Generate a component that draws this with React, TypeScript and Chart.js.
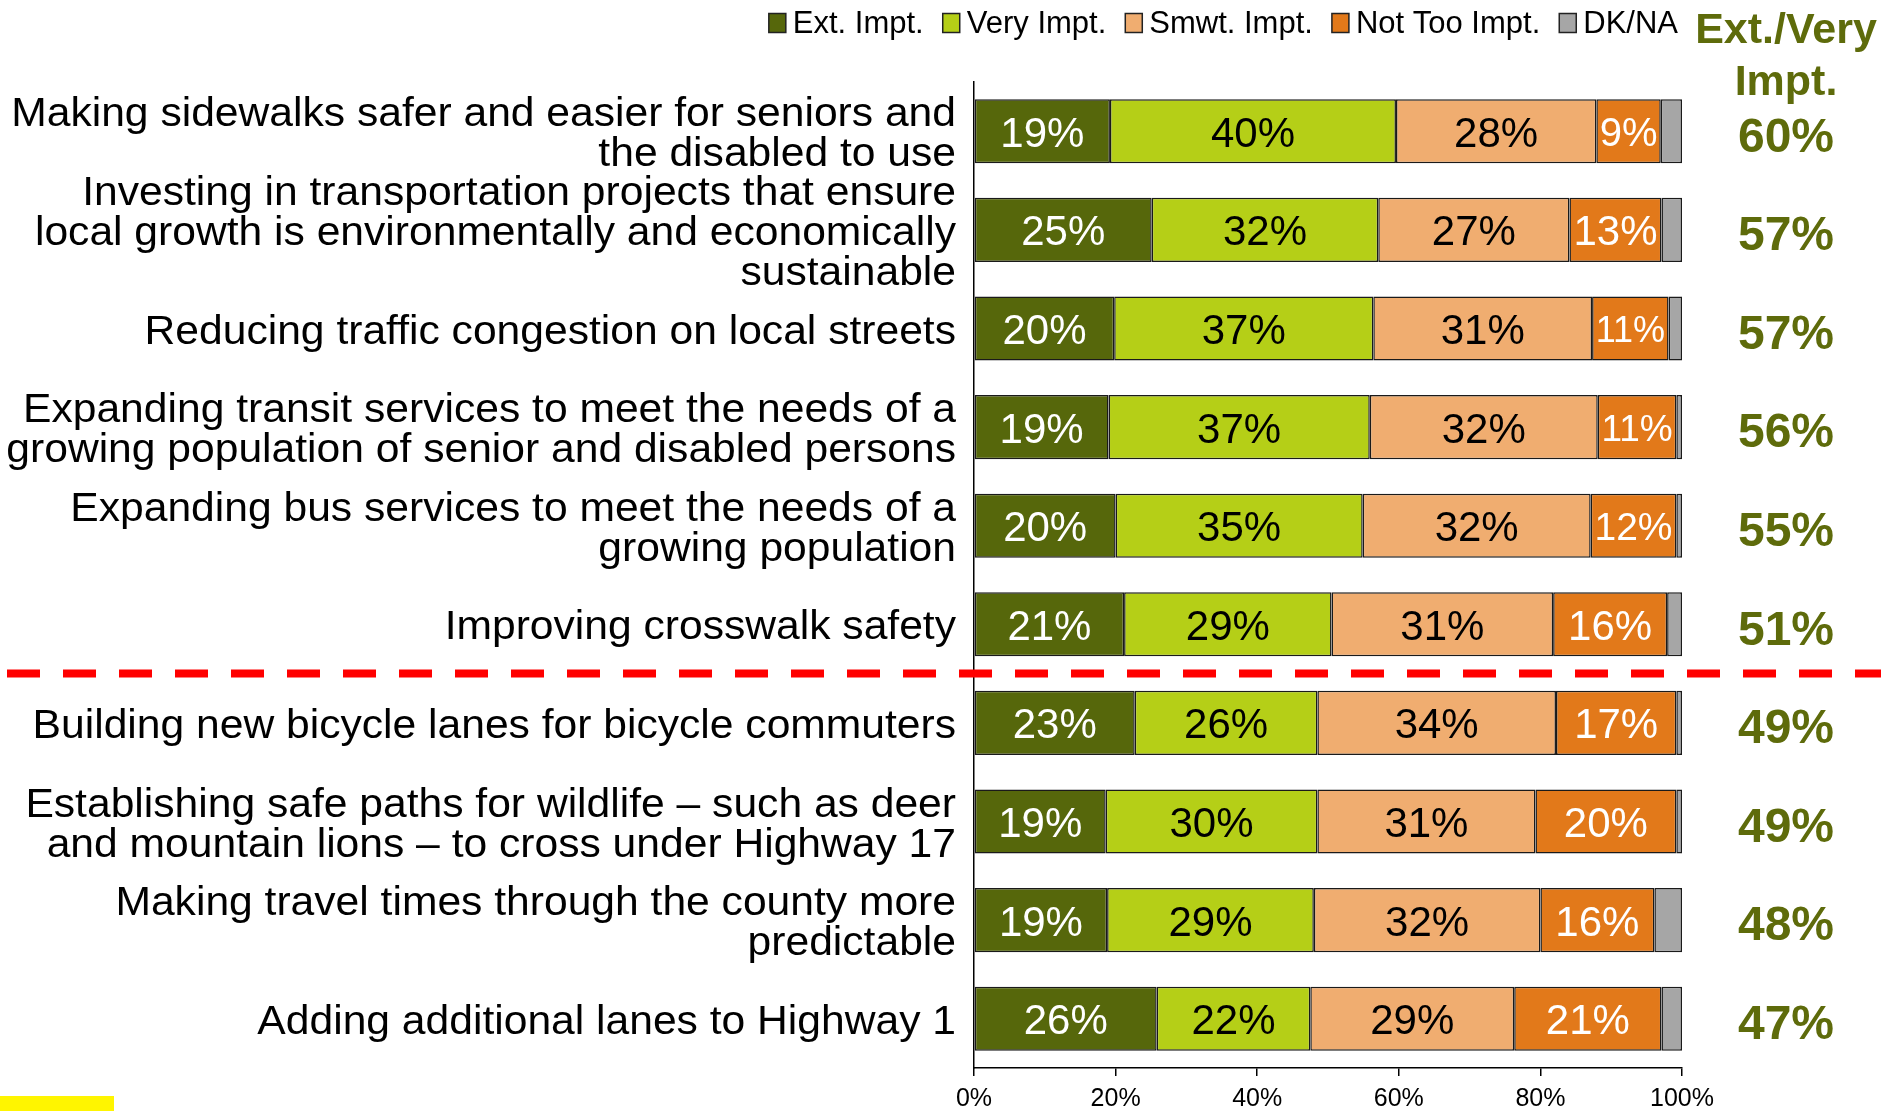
import React, { useEffect, useRef } from "react";
import { Chart, registerables } from "chart.js";

Chart.register(...registerables);

const FONT = '"Liberation Sans", Arial, Helvetica, sans-serif';

const categories: string[][] = [
  ["Making sidewalks safer and easier for seniors and", "the disabled to use"],
  ["Investing in transportation projects that ensure", "local growth is environmentally and economically", "sustainable"],
  ["Reducing traffic congestion on local streets"],
  ["Expanding transit services to meet the needs of a", "growing population of senior and disabled persons"],
  ["Expanding bus services to meet the needs of a", "growing population"],
  ["Improving crosswalk safety"],
  ["Building new bicycle lanes for bicycle commuters"],
  ["Establishing safe paths for wildlife \u2013 such as deer", "and mountain lions \u2013 to cross under Highway 17"],
  ["Making travel times through the county more", "predictable"],
  ["Adding additional lanes to Highway 1"],
];

const seriesNames = ["Ext. Impt.", "Very Impt.", "Smwt. Impt.", "Not Too Impt.", "DK/NA"];
const seriesColors = ["#56670B", "#B5CF17", "#F0AD70", "#E2791A", "#A6A6A6"];
const labelColors = ["#FFFFFF", "#000000", "#000000", "#FFFFFF"];

const extImpt = [19.2, 25.1, 19.8, 19.0, 20.0, 21.2, 22.7, 18.6, 18.8, 25.8];
const veryImpt = [40.4, 32.0, 36.6, 36.9, 34.9, 29.3, 25.8, 29.9, 29.2, 21.7];
const smwtImpt = [28.3, 27.0, 30.9, 32.2, 32.2, 31.3, 33.7, 30.8, 32.0, 28.8];
const notTooImpt = [9.1, 13.0, 10.8, 11.1, 12.1, 16.1, 17.0, 19.9, 16.1, 20.8];
const dkNa = [3.0, 2.9, 1.9, 0.8, 0.8, 2.1, 0.8, 0.8, 3.9, 2.9];

const extVeryTotals = [60, 57, 57, 56, 55, 51, 49, 49, 48, 47];
const totalsHeader = ["Ext./Very", "Impt."];
const xTicks = [0, 20, 40, 60, 80, 100];

const OLIVE = "#5E6B0B";

const overlayPlugin = {
  id: "overlay",
  afterDatasetsDraw(chart: any) {
    const ctx: CanvasRenderingContext2D = chart.ctx;
    ctx.save();
    for (let d = 0; d < 4; d++) {
      const meta = chart.getDatasetMeta(d);
      const values = chart.data.datasets[d].data as number[];
      meta.data.forEach((bar: any, i: number) => {
        const p = bar.getProps(["x", "y", "base"], true);
        const w = Math.abs(p.x - p.base);
        const cx = (p.x + p.base) / 2;
        const txt = Math.round(values[i]) + "%";
        let size = 42;
        ctx.font = `${size}px ${FONT}`;
        const tw = ctx.measureText(txt).width;
        if (tw > w - 6) size = Math.floor((size * (w - 6)) / tw);
        ctx.font = `${size}px ${FONT}`;
        ctx.fillStyle = labelColors[d];
        ctx.textAlign = "center";
        ctx.textBaseline = "middle";
        ctx.fillText(txt, cx, p.y + 4);
      });
    }
    ctx.restore();
  },
  afterDraw(chart: any) {
    const ctx: CanvasRenderingContext2D = chart.ctx;
    const area = chart.chartArea;
    const yScale = chart.scales.y;
    ctx.save();

    // category labels
    const catSize = 40;
    const catStretch = 1.065;
    const lineH = 40;
    ctx.font = `${catSize}px ${FONT}`;
    ctx.fillStyle = "#000";
    ctx.textAlign = "right";
    ctx.textBaseline = "middle";
    categories.forEach((lines, i) => {
      const cy = yScale.getPixelForValue(i) + 4;
      lines.forEach((line, j) => {
        const ly = cy + (j - (lines.length - 1) / 2) * lineH;
        ctx.save();
        ctx.translate(area.left - 18, ly);
        ctx.scale(catStretch, 1);
        ctx.fillText(line, 0, 0);
        ctx.restore();
      });
    });

    // totals column
    const colX = area.right + 104;
    ctx.fillStyle = OLIVE;
    ctx.textAlign = "center";
    ctx.font = `bold 43px ${FONT}`;
    ctx.textBaseline = "alphabetic";
    ctx.fillText(totalsHeader[0], colX, 43);
    ctx.fillText(totalsHeader[1], colX, 95);
    ctx.font = `bold 48px ${FONT}`;
    ctx.textBaseline = "middle";
    extVeryTotals.forEach((v, i) => {
      ctx.fillText(v + "%", colX, yScale.getPixelForValue(i) + 7);
    });

    // legend
    const legSize = 31;
    ctx.font = `${legSize}px ${FONT}`;
    ctx.textAlign = "left";
    ctx.textBaseline = "middle";
    const boxW = 17, boxH = 19, boxGap = 7, itemGap = 19;
    const widths = seriesNames.map((n) => boxW + boxGap + ctx.measureText(n).width);
    const total = widths.reduce((a, b) => a + b, 0) + itemGap * (seriesNames.length - 1);
    let lx = area.right - 4 - total;
    const ly = 23;
    seriesNames.forEach((n, k) => {
      ctx.fillStyle = seriesColors[k];
      ctx.fillRect(lx, ly - boxH / 2, boxW, boxH);
      ctx.strokeStyle = "#222";
      ctx.lineWidth = 1.5;
      ctx.strokeRect(lx, ly - boxH / 2, boxW, boxH);
      ctx.fillStyle = "#000";
      ctx.fillText(n, lx + boxW + boxGap, ly + 1);
      lx += widths[k] + itemGap;
    });

    // red dashed separator between row 6 and row 7
    const sepY = (yScale.getPixelForValue(5) + yScale.getPixelForValue(6)) / 2;
    ctx.strokeStyle = "#FF0000";
    ctx.lineWidth = 8;
    ctx.setLineDash([33, 23]);
    ctx.beginPath();
    ctx.moveTo(7, sepY);
    ctx.lineTo(chart.width, sepY);
    ctx.stroke();
    ctx.setLineDash([]);

    // yellow marker bottom-left
    ctx.fillStyle = "#FFF500";
    ctx.fillRect(0, chart.height - 15, 114, 15);

    ctx.restore();
  },
};

export default function App() {
  const ref = useRef<HTMLCanvasElement>(null);
  useEffect(() => {
    const series = [extImpt, veryImpt, smwtImpt, notTooImpt, dkNa];
    const chart = new Chart(ref.current as HTMLCanvasElement, {
      type: "bar",
      data: {
        labels: categories.map((c) => c.join(" ")),
        datasets: series.map((data, k) => ({
          label: seriesNames[k],
          data,
          backgroundColor: seriesColors[k],
          borderColor: "#1A1A1A",
          borderWidth: 1.5,
          borderSkipped: false,
          barPercentage: 0.65,
          categoryPercentage: 1,
        })),
      },
      options: {
        indexAxis: "y",
        animation: false,
        responsive: true,
        maintainAspectRatio: false,
        devicePixelRatio: 1,
        layout: { padding: { top: 82, right: 199, bottom: 0, left: 0 } },
        plugins: { legend: { display: false }, tooltip: { enabled: false } },
        scales: {
          x: {
            stacked: true,
            min: 0,
            max: 100,
            afterBuildTicks: (s: any) => {
              s.ticks = xTicks.map((v) => ({ value: v }));
            },
            ticks: {
              callback: (v: any) => v + "%",
              color: "#000",
              font: { size: 25, family: FONT },
              padding: 8,
              maxRotation: 0,
              autoSkip: false,
            },
            grid: { drawOnChartArea: false, drawTicks: true, tickLength: 8, color: "#000", lineWidth: 1.5 },
            border: { color: "#000", width: 1.5 },
            afterFit: (s: any) => {
              s.height = 43;
            },
          },
          y: {
            stacked: true,
            ticks: { display: false },
            grid: { display: true, drawOnChartArea: false, drawTicks: false },
            border: { color: "#000", width: 1.5 },
            afterFit: (s: any) => {
              s.width = 974;
            },
          },
        },
      },
      plugins: [overlayPlugin],
    } as any);
    return () => chart.destroy();
  }, []);
  return (
    <div style={{ position: "fixed", left: 0, top: 0, width: 1881, height: 1111, background: "#fff" }}>
      <canvas ref={ref} />
    </div>
  );
}
